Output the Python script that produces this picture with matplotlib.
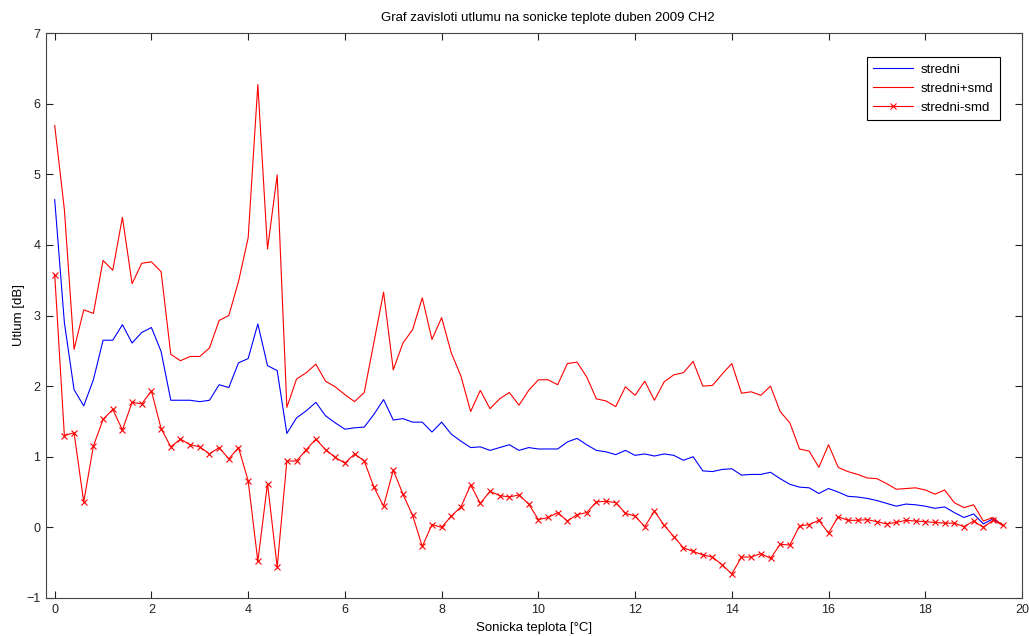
import matplotlib
matplotlib.use("Agg")
import matplotlib.pyplot as plt

plt.rcParams['font.family'] = ['Liberation Sans', 'DejaVu Sans']

title = "Graf zavisloti utlumu na sonicke teplote duben 2009 CH2"
xlabel = "Sonicka teplota [°C]"
ylabel = "Utlum [dB]"
labels = ["stredni", "stredni+smd", "stredni-smd"]

teplota = [0.0, 0.2, 0.4, 0.6, 0.8, 1.0, 1.2, 1.4, 1.6, 1.8,
           2.0, 2.2, 2.4, 2.6, 2.8, 3.0, 3.2, 3.4, 3.6, 3.8,
           4.0, 4.2, 4.4, 4.6, 4.8, 5.0, 5.2, 5.4, 5.6, 5.8,
           6.0, 6.2, 6.4, 6.6, 6.8, 7.0, 7.2, 7.4, 7.6, 7.8,
           8.0, 8.2, 8.4, 8.6, 8.8, 9.0, 9.2, 9.4, 9.6, 9.8,
           10.0, 10.2, 10.4, 10.6, 10.8, 11.0, 11.2, 11.4, 11.6, 11.8,
           12.0, 12.2, 12.4, 12.6, 12.8, 13.0, 13.2, 13.4, 13.6, 13.8,
           14.0, 14.2, 14.4, 14.6, 14.8, 15.0, 15.2, 15.4, 15.6, 15.8,
           16.0, 16.2, 16.4, 16.6, 16.8, 17.0, 17.2, 17.4, 17.6, 17.8,
           18.0, 18.2, 18.4, 18.6, 18.8, 19.0, 19.2, 19.4, 19.6]

stredni = [4.64, 2.90, 1.95, 1.72, 2.09, 2.65, 2.65, 2.87, 2.61, 2.76,
           2.83, 2.49, 1.80, 1.80, 1.80, 1.78, 1.80, 2.02, 1.98, 2.33,
           2.39, 2.88, 2.29, 2.22, 1.33, 1.55, 1.65, 1.77, 1.58, 1.48,
           1.39, 1.41, 1.42, 1.60, 1.81, 1.52, 1.54, 1.49, 1.49, 1.35,
           1.49, 1.32, 1.22, 1.13, 1.14, 1.09, 1.13, 1.17, 1.09, 1.13,
           1.11, 1.11, 1.11, 1.21, 1.26, 1.17, 1.09, 1.07, 1.03, 1.09,
           1.02, 1.04, 1.01, 1.04, 1.02, 0.95, 1.00, 0.80, 0.79, 0.82,
           0.83, 0.74, 0.75, 0.75, 0.78, 0.69, 0.61, 0.57, 0.56, 0.48,
           0.55, 0.50, 0.44, 0.43, 0.41, 0.38, 0.34, 0.30, 0.33, 0.32,
           0.30, 0.27, 0.29, 0.21, 0.14, 0.19, 0.05, 0.12, 0.03]

stredni_plus = [5.69, 4.50, 2.52, 3.08, 3.03, 3.78, 3.64, 4.39, 3.45, 3.74,
                3.76, 3.62, 2.45, 2.36, 2.42, 2.42, 2.54, 2.93, 3.00, 3.48,
                4.10, 6.27, 3.94, 4.99, 1.70, 2.10, 2.19, 2.31, 2.07, 1.99,
                1.88, 1.78, 1.91, 2.62, 3.33, 2.23, 2.61, 2.80, 3.25, 2.66,
                2.97, 2.47, 2.14, 1.64, 1.94, 1.68, 1.82, 1.91, 1.73, 1.94,
                2.09, 2.09, 2.02, 2.32, 2.34, 2.13, 1.82, 1.79, 1.71, 1.99,
                1.87, 2.07, 1.80, 2.06, 2.16, 2.19, 2.35, 2.00, 2.01, 2.17,
                2.32, 1.90, 1.92, 1.87, 2.00, 1.64, 1.48, 1.11, 1.08, 0.85,
                1.17, 0.85, 0.79, 0.75, 0.70, 0.69, 0.62, 0.54, 0.55, 0.56,
                0.53, 0.47, 0.53, 0.35, 0.28, 0.32, 0.09, 0.14, 0.03]

stredni_minus = [3.58, 1.30, 1.34, 0.36, 1.15, 1.53, 1.67, 1.38, 1.77, 1.75,
                 1.93, 1.40, 1.14, 1.25, 1.17, 1.14, 1.04, 1.13, 0.97, 1.13,
                 0.66, -0.48, 0.62, -0.56, 0.94, 0.94, 1.10, 1.25, 1.10, 0.99,
                 0.91, 1.04, 0.94, 0.57, 0.30, 0.81, 0.47, 0.17, -0.27, 0.04,
                 0.00, 0.16, 0.29, 0.60, 0.34, 0.51, 0.45, 0.43, 0.46, 0.33,
                 0.11, 0.14, 0.21, 0.09, 0.18, 0.21, 0.36, 0.37, 0.35, 0.20,
                 0.16, 0.01, 0.23, 0.03, -0.13, -0.29, -0.34, -0.39, -0.42, -0.53,
                 -0.66, -0.42, -0.42, -0.37, -0.44, -0.24, -0.25, 0.02, 0.04, 0.10,
                 -0.08, 0.15, 0.10, 0.10, 0.11, 0.08, 0.05, 0.07, 0.10, 0.09,
                 0.08, 0.07, 0.06, 0.06, 0.01, 0.09, 0.00, 0.10, 0.03]

x_ticks = [0, 2, 4, 6, 8, 10, 12, 14, 16, 18, 20]
y_ticks = [-1, 0, 1, 2, 3, 4, 5, 6, 7]

fig = plt.figure(figsize=(10.29, 6.36), dpi=100)
ax = fig.add_axes([46/1029, 1-598/636, 976/1029, 565/636])

ax.plot(teplota, stredni, color='#0000ff', lw=0.8, label=labels[0])
ax.plot(teplota, stredni_plus, color='#ff0000', lw=0.8, label=labels[1])
ax.plot(teplota, stredni_minus, color='#ff0000', lw=0.8, marker='x',
        markersize=4.2, markeredgewidth=0.8, label=labels[2])

ax.set_xlim(0 - 0.18, 20)
ax.set_ylim(-1, 7)
ax.set_xticks(x_ticks)
ax.set_yticks(y_ticks)
ax.tick_params(direction='in', top=True, right=True, length=5, width=0.8,
               labelsize=9, colors='#222222', pad=4)
for s in ax.spines.values():
    s.set_color('#444444')
    s.set_linewidth(0.8)

ax.set_title(title, fontsize=9.5, pad=9, x=0.514)
ax.set_xlabel(xlabel, fontsize=9.5, labelpad=5)
ax.set_ylabel(ylabel, fontsize=9.5, labelpad=1)

leg = ax.legend(loc='upper right', bbox_to_anchor=(0.977, 0.958),
                fancybox=False, framealpha=1, edgecolor='black',
                fontsize=9.5, handlelength=3.0, borderaxespad=0,
                borderpad=0.5, labelspacing=0.52, handletextpad=0.55)
leg.get_frame().set_linewidth(0.8)

fig.savefig("out.png", dpi=100)
